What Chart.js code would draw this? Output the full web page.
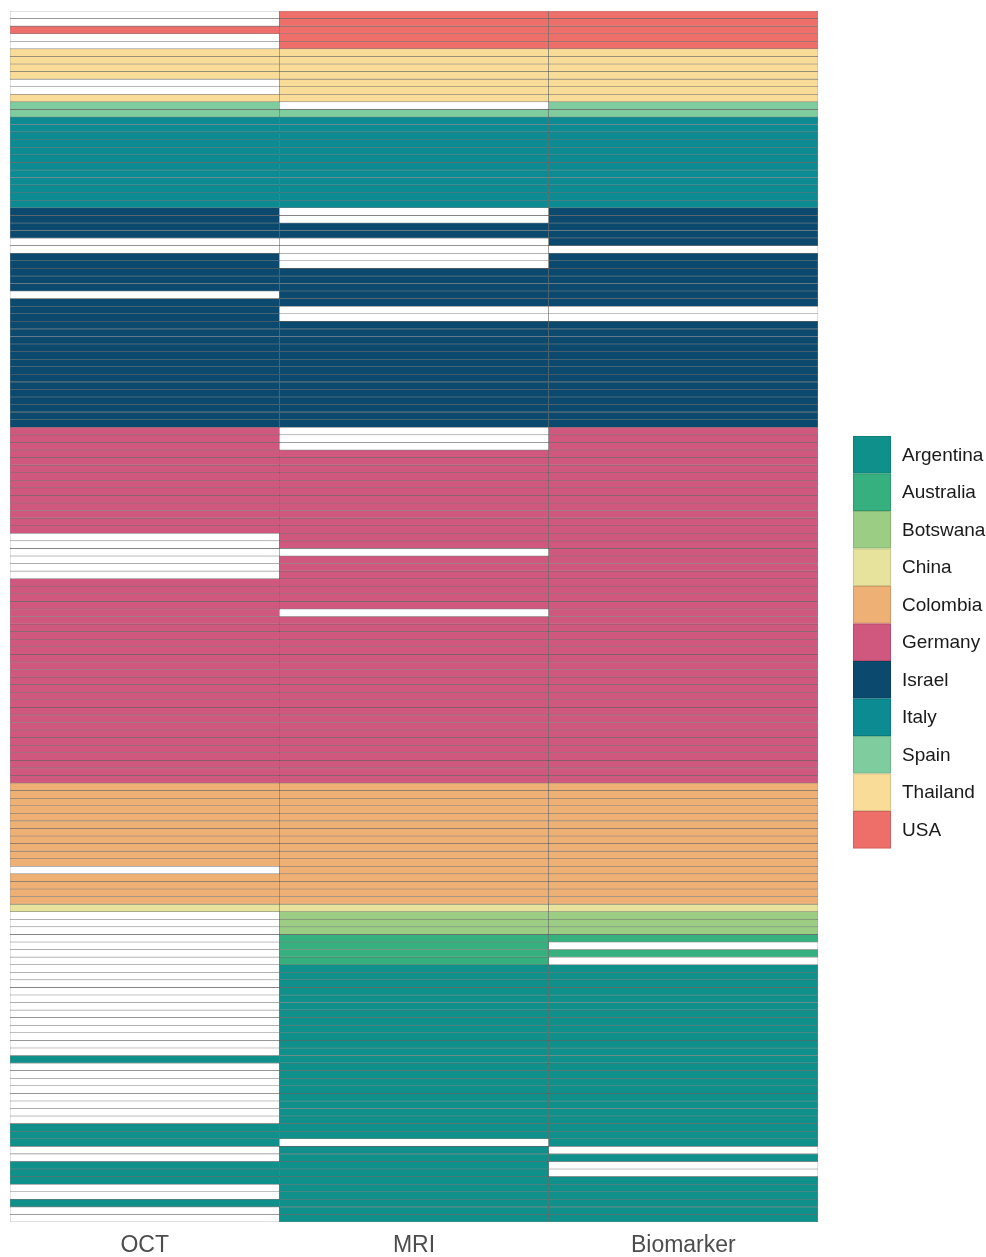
<!DOCTYPE html>
<html>
<head>
<meta charset="utf-8">
<script src="https://cdn.jsdelivr.net/npm/chart.js@4/dist/chart.umd.min.js"></script>
<style>
  html,body{margin:0;padding:0;background:#fff;}
  #wrap{width:986px;height:1257px;position:relative;}
</style>
</head>
<body>
<div id="wrap"><canvas id="c"></canvas></div>
<script>
// ---------- data ----------
const COLUMNS = ["OCT","MRI","Biomarker"];
const COUNTRIES = ["Argentina","Australia","Botswana","China","Colombia","Germany","Israel","Italy","Spain","Thailand","USA"];
const COLORS = ["#10908a","#36b07f","#9bcd85","#e7e39d","#efb075","#d0577d","#0b4a6e","#0c8b93","#7fcd9f","#f9dc98","#ee6f69"];

// rows top -> bottom, run-length: [country, number of rows]
const ROW_GROUPS = [["USA",5],["Thailand",7],["Spain",2],["Italy",12],["Israel",29],["Germany",47],
                    ["Colombia",16],["China",1],["Botswana",3],["Australia",4],["Argentina",34]];

// row indexes (0 = top) with no value in each column
const OCT_MISSING = [0,1,3,4,9,10,30,31,37,69,70,71,72,73,74,113,
  119,120,121,122,123,124,125,126,127,128,129,130,131,132,133,134,135,136,137,
  139,140,141,142,143,144,145,146,150,151,155,156,158,159];
const MRI_MISSING = [12,26,27,30,31,32,33,39,40,55,56,57,71,79,149];
const BIO_MISSING = [31,39,40,123,125,150,152,153];

// ---------- build ----------
const MISSING = [OCT_MISSING, MRI_MISSING, BIO_MISSING];
const color = c => COLORS[COUNTRIES.indexOf(c)];
const rows = ROW_GROUPS.flatMap(([c,n]) => Array(n).fill(c));

const datasets = rows.map((c,i) => ({
  label: "row"+i,
  data: COLUMNS.map(() => [i, i+1]),
  backgroundColor: MISSING.map(m => m.includes(i) ? "#ffffff" : color(c)),
  borderColor: "rgba(50,50,50,0.55)",
  borderWidth: 0.6,
  borderSkipped: false,
  grouped: false,
  barPercentage: 1,
  categoryPercentage: 1
}));

// legend drawn at the right, swatches stacked without gaps
const swatchLegend = {
  id: "swatchLegend",
  afterDraw(chart){
    const ctx = chart.ctx;
    const x = 853, w = 38, h = 37.5, y0 = 436;
    ctx.save();
    COUNTRIES.forEach((c,k) => {
      const y = y0 + k*h;
      ctx.fillStyle = COLORS[k];
      ctx.fillRect(x, y, w, h);
      ctx.strokeStyle = "rgba(0,0,0,0.12)";
      ctx.lineWidth = 1;
      ctx.strokeRect(x+0.5, y+0.5, w-1, h-1);
      ctx.fillStyle = "#1a1a1a";
      ctx.font = '19px "Liberation Sans", Arial, sans-serif';
      ctx.textBaseline = "middle";
      ctx.fillText(c, x + w + 11, y + h/2 + 1);
    });
    ctx.restore();
  }
};

new Chart(document.getElementById("c"), {
  type: "bar",
  data: { labels: COLUMNS, datasets },
  options: {
    responsive: true,
    maintainAspectRatio: false,
    animation: false,
    layout: { padding: { left: 10, right: 168, top: 11, bottom: 0 } },
    plugins: { legend: { display: false }, tooltip: { enabled: false } },
    scales: {
      x: {
        grid: { display: false, drawTicks: false }, border: { display: false },
        afterFit: s => { s.height = 35; },
        ticks: { color: "#4d4d4d", padding: 10,
          font: { family: '"Liberation Sans", Arial, sans-serif', size: 23 } }
      },
      y: { display: false, min: 0, max: rows.length, reverse: true }
    }
  },
  plugins: [swatchLegend]
});
</script>
</body>
</html>
